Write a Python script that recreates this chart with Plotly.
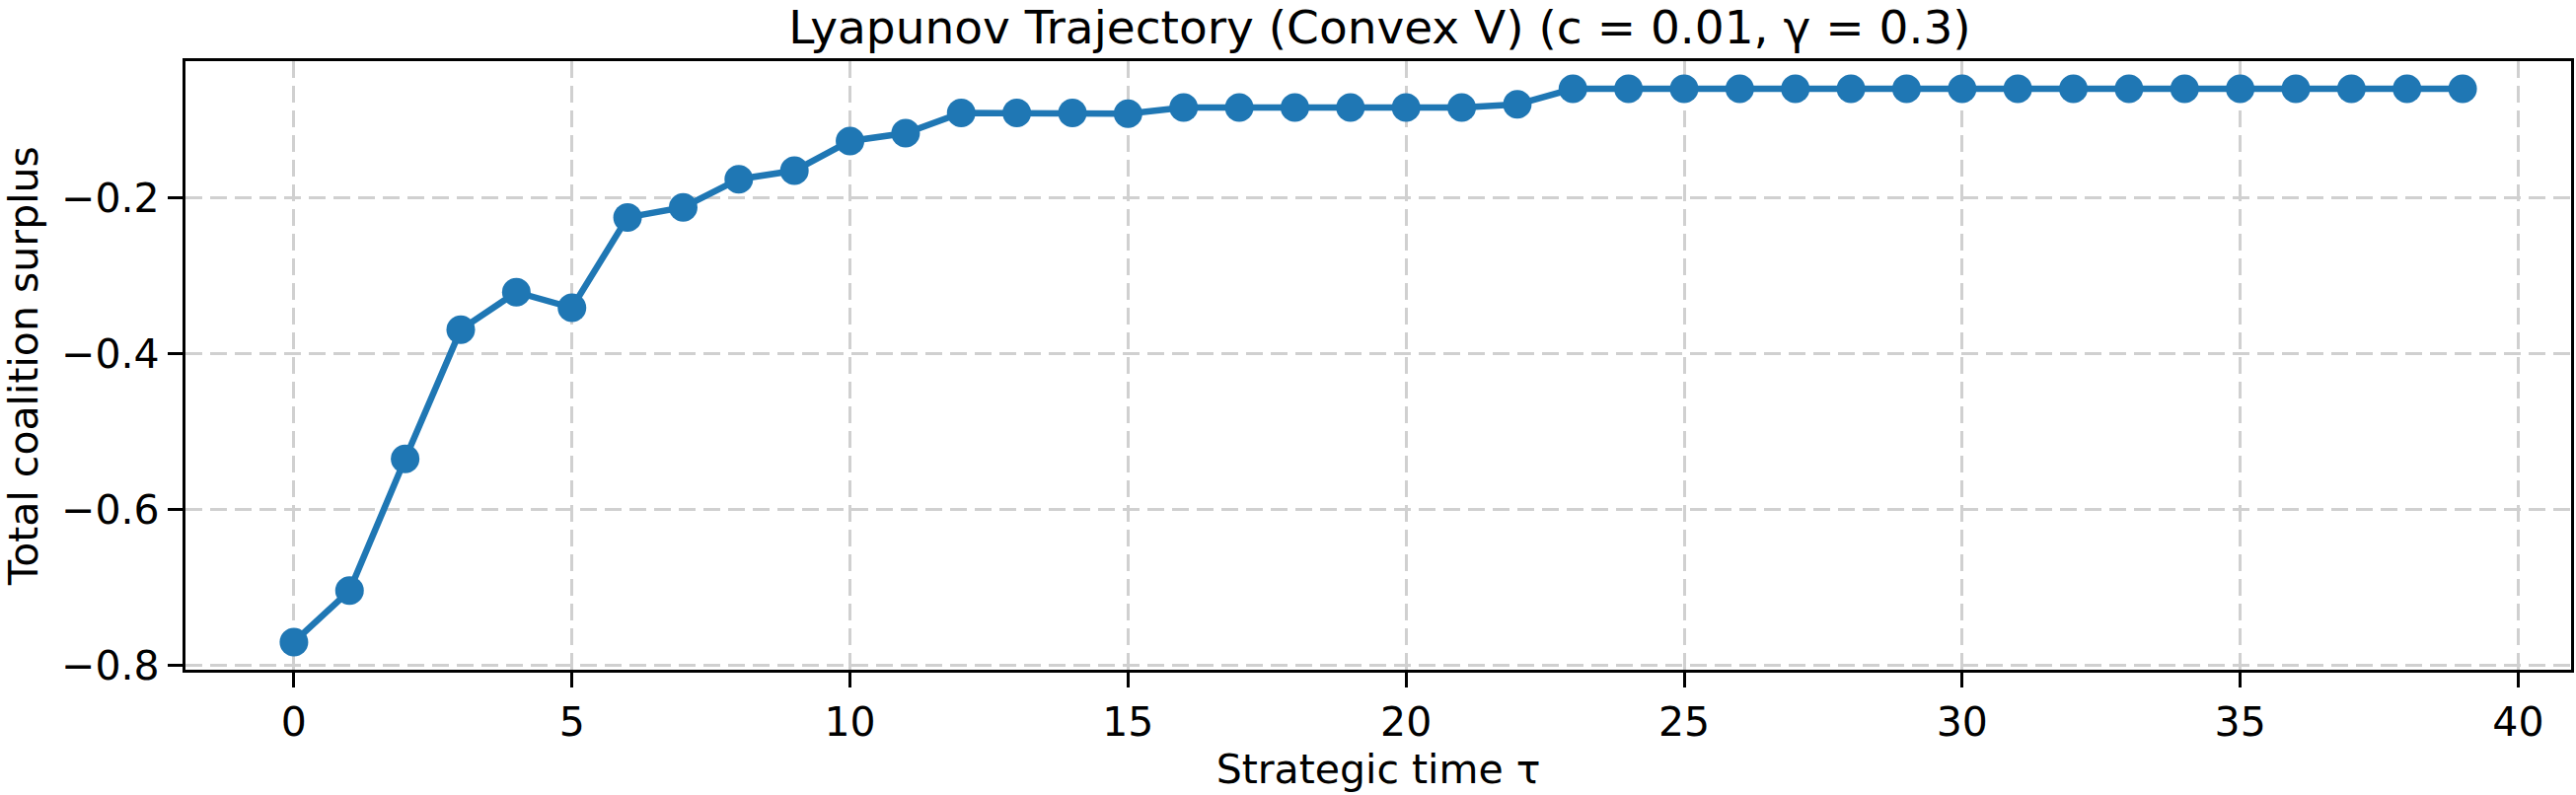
import plotly.graph_objects as go

tau = list(range(40))
surplus = [
    -0.770, -0.704, -0.535, -0.369, -0.321, -0.341, -0.225, -0.212, -0.176, -0.165,
    -0.127, -0.117, -0.091, -0.091, -0.091, -0.092, -0.084, -0.084, -0.084, -0.084,
    -0.084, -0.084, -0.080, -0.060, -0.060, -0.060, -0.060, -0.060, -0.060, -0.060,
    -0.060, -0.060, -0.060, -0.060, -0.060, -0.060, -0.060, -0.060, -0.060, -0.060,
]
x_ticks = [0, 5, 10, 15, 20, 25, 30, 35, 40]
y_ticks = [-0.8, -0.6, -0.4, -0.2]

title_text = "Lyapunov Trajectory (Convex V) (c = 0.01, γ = 0.3)"
x_label = "Strategic time τ"
y_label = "Total coalition surplus"

FONT = "DejaVu Sans"
BLUE = "#1f77b4"

fig = go.Figure()
fig.add_trace(go.Scatter(
    x=tau, y=surplus, mode="lines+markers",
    line=dict(color=BLUE, width=6.5),
    marker=dict(color=BLUE, size=29, line=dict(width=0)),
    showlegend=False,
))

W, H = 2611, 806
L, R, T, B = 188, 2, 62, 127

common_axis = dict(
    showline=True, mirror=True, linecolor="black", linewidth=3.3,
    ticks="outside", ticklen=15, tickwidth=3.3, tickcolor="black",
    showgrid=True, gridcolor="#d0d0d0", gridwidth=3, griddash="17px,8px",
    zeroline=False,
    tickfont=dict(family=FONT, size=41, color="black"),
)

fig.update_layout(
    width=W, height=H,
    margin=dict(l=L, r=R, t=T, b=B, pad=0),
    paper_bgcolor="white", plot_bgcolor="white",
    font=dict(family=FONT, size=41, color="black"),
    title=dict(text=title_text, x=(L + (W - R)) / 2 / W, xanchor="center",
               xref="container", yref="container", y=1 - 28 / H, yanchor="middle",
               font=dict(family=FONT, size=47, color="black")),
    xaxis=dict(range=[-1.95, 40.95], tickvals=x_ticks,
               title=dict(text=x_label, standoff=8, font=dict(family=FONT, size=41)),
               **common_axis),
    yaxis=dict(range=[-0.8055, -0.0245], tickvals=y_ticks, tickformat=".1f",
               title=dict(text=y_label, standoff=16, font=dict(family=FONT, size=41)),
               **common_axis),
)

fig.write_html("out.html")
